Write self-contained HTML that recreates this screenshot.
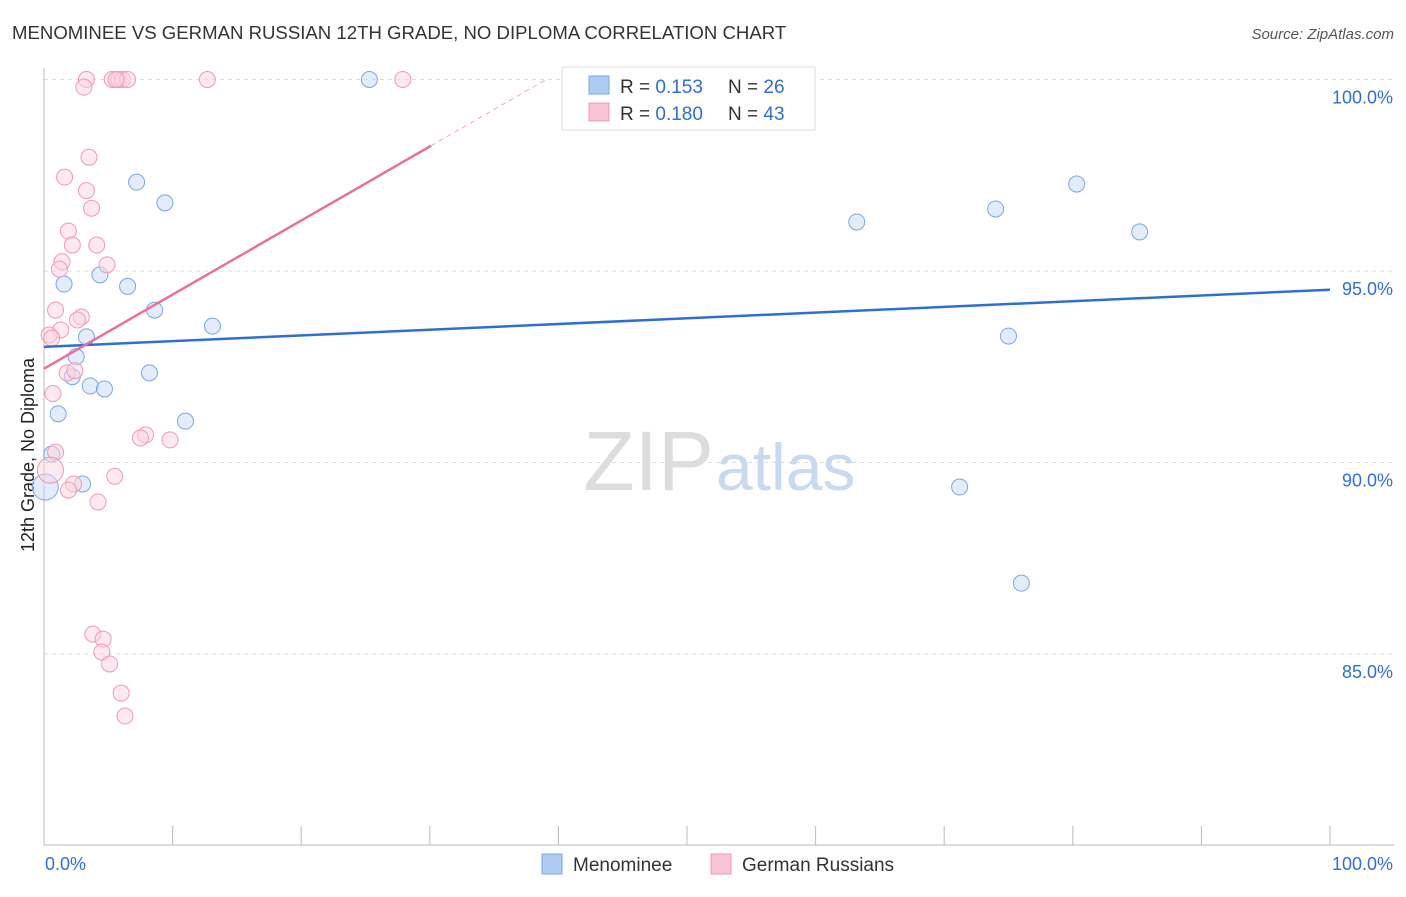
<!DOCTYPE html>
<html><head><meta charset="utf-8"><style>
body{margin:0;background:#fff;font-family:"Liberation Sans",sans-serif;}
svg text{font-family:"Liberation Sans",sans-serif;}
</style></head><body>
<svg id="c" width="1406" height="892">
<text x="12" y="39" font-size="18.6" fill="#333">MENOMINEE VS GERMAN RUSSIAN 12TH GRADE, NO DIPLOMA CORRELATION CHART</text>
<text x="1394" y="39" font-size="15" fill="#555" font-style="italic" text-anchor="end">Source: ZipAtlas.com</text>
<text x="34" y="455" font-size="18" fill="#222" text-anchor="middle" transform="rotate(-90 34 455)">12th Grade, No Diploma</text>
<g id="grid"></g>
<g id="axes"></g>
<text x="714" y="490" font-size="84" fill="#ddd" text-anchor="end" font-family="Liberation Serif">ZIP</text>
<text x="716" y="490" font-size="66" fill="#c9daf0">atlas</text>
<g id="marks"></g>
<g>
<rect x="562" y="67" width="253" height="63" fill="#fff" stroke="#ddd"/>
<rect x="589" y="76" width="20" height="18" fill="#aecbf3" stroke="#7aa7e0"/>
<text x="620" y="93" font-size="19" fill="#333">R = <tspan fill="#2f6fd0">0.153</tspan></text>
<text x="728" y="93" font-size="19" fill="#333">N = <tspan fill="#2f6fd0">26</tspan></text>
<rect x="589" y="103" width="20" height="18" fill="#f8c3d4" stroke="#ee9ab5"/>
<text x="620" y="120" font-size="19" fill="#333">R = <tspan fill="#2f6fd0">0.180</tspan></text>
<text x="728" y="120" font-size="19" fill="#333">N = <tspan fill="#2f6fd0">43</tspan></text>
</g>
<g>
<rect x="542" y="854" width="20" height="20" fill="#aecbf3" stroke="#7aa7e0"/>
<text x="573" y="871" font-size="19" fill="#333">Menominee</text>
<rect x="711" y="854" width="20" height="20" fill="#f8c3d4" stroke="#ee9ab5"/>
<text x="742" y="871" font-size="19" fill="#333">German Russians</text>
</g>
</svg>
<script>
const blueX=[25.3,7.2,9.4,63.2,74.0,80.3,85.2,4.35,1.56,6.5,8.6,13.1,3.3,75.0,2.5,8.2,2.2,3.6,4.7,1.1,11.0,0.6,3.0,0.1,71.2,76.0];
const blueY=[100,97.32,96.78,96.28,96.62,97.27,96.02,94.9,94.66,94.6,93.98,93.56,93.28,93.3,92.76,92.34,92.24,92.0,91.92,91.27,91.08,90.22,89.44,89.36,89.36,86.85];
const pinkX=[3.3,5.3,5.8,6.1,6.5,12.7,27.9,3.1,5.6,3.5,1.6,3.3,3.7,1.9,2.2,4.1,1.4,4.9,1.2,0.9,2.9,2.6,1.3,0.4,0.6,1.8,2.4,0.7,7.9,7.5,9.8,0.9,0.5,5.5,2.3,1.9,4.2,3.8,4.6,4.5,5.1,6.0,6.3];
const pinkY=[100,100,100,100,100,100,100,99.8,100,97.97,97.45,97.1,96.64,96.04,95.68,95.68,95.24,95.16,95.05,93.98,93.8,93.72,93.46,93.33,93.25,92.34,92.4,91.8,90.72,90.64,90.59,90.27,89.8,89.64,89.44,89.28,88.97,85.52,85.39,85.05,84.74,83.98,83.38];
const yTicks=[100,95,90,85];
const yTickLabels=["100.0%","95.0%","90.0%","85.0%"];
const xEnds=["0.0%","100.0%"];
const blueTrend=[93.02,94.51];
const pinkTrend=[92.45,98.27,30.1];
const X0=44,X1=1330,YT=79.5,PPU=38.3;
const sx=v=>X0+(X1-X0)*v/100;
const sy=v=>YT+(100-v)*PPU;
const NS="http://www.w3.org/2000/svg";
function mk(t,a,p){const e=document.createElementNS(NS,t);for(const k in a)e.setAttribute(k,a[k]);p.appendChild(e);return e;}
const grid=document.getElementById('grid'),axes=document.getElementById('axes'),marks=document.getElementById('marks');
yTicks.forEach((v,i)=>{
 const l=mk('line',{x1:X0,x2:1394,y1:sy(v),y2:sy(v),stroke:'#ddd','stroke-dasharray':'4,4'},grid);
 
 
 const t=mk('text',{x:1393,y:sy(v)+24,'font-size':18,fill:'#2f6fd0','text-anchor':'end'},axes);
 t.textContent=yTickLabels[i];
 
 
});
const ax=mk('line',{x1:X0,x2:X0,y1:68,y2:845,stroke:'#bbb'},axes);


const bx=mk('line',{x1:X0,x2:1394,y1:845,y2:845,stroke:'#bbb'},axes);


for(let i=0;i<=10;i++){
 const tk=mk('line',{x1:sx(i*10),x2:sx(i*10),y1:826,y2:845,stroke:'#bbb'},axes);
 
 
}
[[0,'start',45],[100,'end',1393]].forEach((d,i)=>{
 const t=mk('text',{x:d[2],y:870,'font-size':18,fill:'#2f6fd0','text-anchor':d[1]},axes);
 t.textContent=xEnds[i];
 
 
});
function pts(xs,ys,fill,stroke,name){
 xs.forEach((x,i)=>{
  const big=(x<=0.5&&(ys[i]<90.5&&ys[i]>89));
  const c=mk('circle',{cx:sx(x),cy:sy(ys[i]),r:big?13:8,fill:fill,'fill-opacity':0.5,stroke:stroke,'stroke-width':1},marks);
  
  
 });
}
pts(blueX,blueY,'#c6daf5','#7aa7e0','menominee-point');
pts(pinkX,pinkY,'#fbd3df','#ee9ab5','german-russians-point');
const bl=mk('line',{x1:sx(0),y1:sy(blueTrend[0]),x2:sx(100),y2:sy(blueTrend[1]),stroke:'#2f6fd0','stroke-width':2.5},marks);


const pl=mk('line',{x1:sx(0),y1:sy(pinkTrend[0]),x2:sx(pinkTrend[2]),y2:sy(pinkTrend[1]),stroke:'#e8709a','stroke-width':2.5},marks);


const slope=(pinkTrend[1]-pinkTrend[0])/pinkTrend[2];
const xe=(100-pinkTrend[0])/slope;
const pd=mk('line',{x1:sx(pinkTrend[2]),y1:sy(pinkTrend[1]),x2:sx(xe),y2:sy(100),stroke:'#f0a8c0','stroke-width':1,'stroke-dasharray':'5,4'},marks);


</script>
</body></html>
